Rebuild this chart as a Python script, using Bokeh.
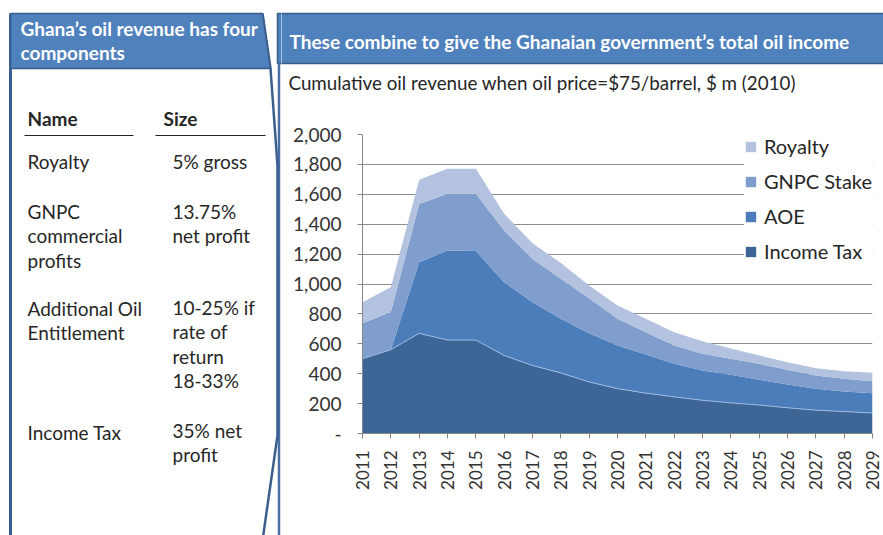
from math import pi
from bokeh.plotting import figure
from bokeh.layouts import row, column
from bokeh.core.properties import value
from bokeh.models import (ColumnDataSource, Range1d, FixedTicker, NumeralTickFormatter,
                          Legend, LegendItem)
from bokeh.embed import file_html
from bokeh.resources import INLINE

# ---------------- data ----------------
years = list(range(2011, 2030))
income_tax = [500, 560, 670, 625, 625, 522, 455, 405, 345, 300, 270, 245, 222, 205, 190, 172, 156, 147, 137]
aoe        = [0, 0, 476, 599, 595, 490, 423, 362, 325, 289, 258, 221, 199, 188, 169, 156, 143, 134, 133]
gnpc_stake = [238, 252, 389, 379, 383, 346, 290, 268, 235, 178, 150, 123, 112, 107, 107, 98, 89, 85, 80]
royalty    = [140, 167, 162, 168, 168, 112, 105, 105, 85, 89, 89, 89, 84, 68, 56, 51, 49, 51, 56]
series_keys = ["income_tax", "aoe", "gnpc_stake", "royalty"]
series_names = ["Income Tax", "AOE", "GNPC Stake", "Royalty"]
colors = ["#3D6596", "#4A7DBA", "#7F9ECE", "#B3C2DF"]
y_ticks = list(range(0, 2001, 200))

left_title = ["Ghana’s oil revenue has four", "components"]
right_title = "These combine to give the Ghanaian government’s total oil income"
subtitle = "Cumulative oil revenue when oil price=$75/barrel, $ m (2010)"
table_head = ["Name", "Size"]
table_names = [["Royalty"], ["GNPC", "commercial", "profits"], ["Additional Oil", "Entitlement"], ["Income Tax"]]
table_sizes = [["5% gross"], ["13.75%", "net profit"], ["10-25% if", "rate of", "return", "18-33%"], ["35% net", "profit"]]

FONT = "Lato"
HEAD_FILL = "#4F81BD"
HEAD_LINE = "#385D8A"
FRAME_LINE = "#3B5F8D"
TXT = "#262626"


def no_align(f):
    try:
        f.frame_align = False
    except Exception:
        pass


def canvas_fig(w, h):
    f = figure(width=w, height=h, output_backend="svg", toolbar_location=None,
               x_range=Range1d(0, w), y_range=Range1d(h, 0),
               x_axis_location=None, y_axis_location=None, min_border=0)
    f.outline_line_color = None
    f.grid.visible = False
    f.background_fill_color = "white"
    f.border_fill_color = "white"
    no_align(f)
    return f


def put_text(f, xs, ys, texts, size, bold=False, color=TXT):
    f.text(x=xs, y=ys, text=texts, text_font=value(FONT), text_font_size=value(size),
           text_font_style="bold" if bold else "normal", text_color=color,
           text_baseline="middle", text_align="left")


# ---------------- left panel (page x 0..281) ----------------
LW = 281
left = canvas_fig(LW, 535)
# right panel header sliver and right panel left border
left.quad(left=277, right=LW + 2, top=13, bottom=63, fill_color=HEAD_FILL, line_color=HEAD_LINE, line_width=1.5)
left.line(x=[278.5, 278.5], y=[63, 540], line_color="#4A6FA5", line_width=2.5)
# left panel frame with callout edge
left.line(x=[10, 10], y=[13, 540], line_color=FRAME_LINE, line_width=3)
left.line(x=[262, 270, 277, 277, 262], y=[13, 68, 165, 435, 540], line_color=FRAME_LINE, line_width=2.5)
# header
left.patch(x=[10, 262, 270, 10], y=[13, 13, 68, 68], fill_color=HEAD_FILL, line_color=HEAD_LINE, line_width=1.5)
put_text(left, [20, 20], [28, 52], left_title, "19px", bold=True, color="white")
# table
put_text(left, [27, 163], [118, 118], table_head, "19px", bold=True)
left.segment(x0=[24, 155], y0=[135, 135], x1=[133, 265], y1=[135, 135], line_color="#222222", line_width=1.2)
row_y = [161, 211, 308, 432]
col2_y = [161, 211, 307, 430]
LH = 24.3
nx, ny, nt = [], [], []
for ry, names in zip(row_y, table_names):
    for i, s in enumerate(names):
        nx.append(27); ny.append(ry + i * LH); nt.append(s)
for ry, sizes in zip(col2_y, table_sizes):
    for i, s in enumerate(sizes):
        nx.append(172); ny.append(ry + i * LH); nt.append(s)
put_text(left, nx, ny, nt, "19px")

# ---------------- right top (page x 281..883, y 0..120) ----------------
RW = 883 - LW
top = canvas_fig(RW, 120)
top.quad(left=-5, right=RW + 5, top=13, bottom=63, fill_color=HEAD_FILL, line_color=HEAD_LINE, line_width=1.5)
put_text(top, [289 - LW], [41], [right_title], "19px", bold=True, color="white")
put_text(top, [288 - LW], [82], [subtitle], "18.8px")

# ---------------- chart (page x 281..883, y 120..535) ----------------
src = ColumnDataSource(dict(year=years, income_tax=income_tax, aoe=aoe,
                            gnpc_stake=gnpc_stake, royalty=royalty))

p = figure(width=RW, height=415, output_backend="svg", toolbar_location=None,
           x_range=Range1d(2011, 2029), y_range=Range1d(0, 2000),
           min_border_left=81, min_border_right=11, min_border_top=14, min_border_bottom=102)
p.outline_line_color = None
p.background_fill_color = "white"
p.border_fill_color = "white"
no_align(p)

rs = p.varea_stack(stackers=series_keys, x="year", color=colors, source=src)
p.line("year", "income_tax", source=src, line_color="#9DBAE2", line_width=1)

legend = Legend(items=[LegendItem(label=n, renderers=[r]) for n, r in reversed(list(zip(series_names, rs)))],
                location="top_right", margin=0, padding=6, spacing=11,
                glyph_width=13, glyph_height=13, label_height=20, label_standoff=7,
                label_text_font=FONT, label_text_font_size="20px", label_text_color=TXT,
                border_line_color=None, background_fill_color="white", background_fill_alpha=1)
p.add_layout(legend, "center")

p.xaxis.ticker = FixedTicker(ticks=years)
p.xaxis.major_label_orientation = pi / 2
p.xaxis.major_label_text_font = FONT
p.xaxis.major_label_text_font_size = "17px"
p.xaxis.major_label_text_color = "#333333"
p.xaxis.major_tick_out = 5
p.xaxis.major_tick_in = 0
p.xaxis.minor_tick_line_color = None
p.xaxis.axis_line_color = "#868686"
p.xaxis.major_tick_line_color = "#868686"
p.xaxis.major_label_standoff = 12

p.yaxis.ticker = FixedTicker(ticks=y_ticks)
p.yaxis.formatter = NumeralTickFormatter(format="0,0")
p.yaxis.major_label_overrides = {0: "-"}
p.yaxis.major_label_text_font = FONT
p.yaxis.major_label_text_font_size = "19px"
p.yaxis.major_label_text_color = "#333333"
p.yaxis.major_tick_out = 5
p.yaxis.major_tick_in = 0
p.yaxis.minor_tick_line_color = None
p.yaxis.axis_line_color = "#868686"
p.yaxis.major_tick_line_color = "#868686"
p.yaxis.major_label_standoff = 16

p.xgrid.grid_line_color = None
p.ygrid.ticker = FixedTicker(ticks=y_ticks)
p.ygrid.grid_line_color = "#8C8C8C"
p.ygrid.grid_line_width = 1

layout = row(left, column(top, p, spacing=0), spacing=0)
open("out.html", "w").write(file_html(layout, INLINE))
